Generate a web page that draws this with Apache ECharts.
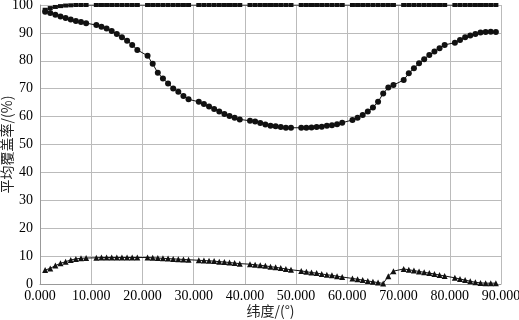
<!DOCTYPE html>
<html>
<head>
<meta charset="utf-8">
<script src="https://cdn.jsdelivr.net/npm/echarts@6/dist/echarts.min.js"></script>
<style>
  html, body { margin: 0; padding: 0; background: #fff; }
  #chart { width: 519px; height: 320px; }
</style>
</head>
<body>
<div id="chart"></div>
<script>
// latitude samples (degrees); multiples of 10 are not sampled
const latitudes = [
  1, 2, 3, 4, 5, 6, 7, 8, 9,
  11, 12, 13, 14, 15, 16, 17, 18, 19,
  21, 22, 23, 24, 25, 26, 27, 28, 29,
  31, 32, 33, 34, 35, 36, 37, 38, 39,
  41, 42, 43, 44, 45, 46, 47, 48, 49,
  51, 52, 53, 54, 55, 56, 57, 58, 59,
  61, 62, 63, 64, 65, 66, 67, 68, 69,
  71, 72, 73, 74, 75, 76, 77, 78, 79,
  81, 82, 83, 84, 85, 86, 87, 88, 89
]

const topSeries = [
  98.3, 98.9, 99.3, 99.6, 99.8, 99.9, 100, 100, 100,
  100, 100, 100, 100, 100, 100, 100, 100, 100,
  100, 100, 100, 100, 100, 100, 100, 100, 100,
  100, 100, 100, 100, 100, 100, 100, 100, 100,
  100, 100, 100, 100, 100, 100, 100, 100, 100,
  100, 100, 100, 100, 100, 100, 100, 100, 100,
  100, 100, 100, 100, 100, 100, 100, 100, 100,
  100, 100, 100, 100, 100, 100, 100, 100, 100,
  100, 100, 100, 100, 100, 100, 100, 100, 100
]

const midSeries = [
  97.6, 97.1, 96.5, 95.9, 95.3, 94.8, 94.3, 93.9, 93.5,
  92.8, 92.2, 91.6, 90.7, 89.6, 88.4, 87.2, 85.7, 83.9,
  81.8, 78.9, 75.7, 73.7, 71.9, 70.1, 68.9, 67.4, 66.2,
  65.3, 64.5, 63.6, 62.7, 61.8, 60.9, 60.2, 59.6, 59.0,
  58.5, 58.2, 57.7, 57.2, 56.7, 56.5, 56.3, 56.0, 56.0,
  56.0, 56.0, 56.1, 56.3, 56.4, 56.7, 56.9, 57.3, 57.8,
  58.8, 59.6, 60.6, 61.8, 63.3, 65.3, 68.3, 70.4, 71.3,
  73.1, 75.5, 77.3, 79.1, 80.6, 82.1, 83.3, 84.5, 85.7,
  86.5, 87.5, 88.4, 89.1, 89.6, 90.1, 90.3, 90.4, 90.3
]

const lowSeries = [
  5.0, 5.6, 6.6, 7.4, 8.0, 8.6, 9.0, 9.2, 9.3,
  9.4, 9.5, 9.5, 9.5, 9.5, 9.5, 9.5, 9.5, 9.5,
  9.5, 9.4, 9.3, 9.2, 9.1, 9.0, 8.9, 8.8, 8.7,
  8.5, 8.4, 8.3, 8.2, 8.0, 7.9, 7.7, 7.5, 7.3,
  7.1, 6.9, 6.7, 6.5, 6.2, 6.0, 5.7, 5.4, 5.1,
  4.7, 4.4, 4.1, 3.9, 3.6, 3.3, 3.1, 2.8, 2.5,
  2.0, 1.7, 1.4, 1.1, 0.8, 0.5, 0.2, 2.8, 4.6,
  5.4, 5.1, 4.8, 4.5, 4.2, 3.9, 3.6, 3.2, 2.9,
  2.2, 1.8, 1.4, 1.0, 0.6, 0.4, 0.3, 0.3, 0.3
]

const pairs = vals => latitudes.map((x, i) => [x, vals[i]])

const chart = echarts.init(document.getElementById('chart'))

const labelFont = {
  color: '#000',
  fontFamily: 'Liberation Serif',
  fontSize: 14
}

function lineSeries(data, symbol, size) {
  return {
    type: 'line',
    data: pairs(data),
    symbol: symbol,
    symbolSize: size,
    showAllSymbol: true,
    lineStyle: { color: '#111', width: 1 },
    itemStyle: { color: '#111' },
    animation: false
  }
}

chart.setOption({
  backgroundColor: '#fff',
  grid: { left: 40, right: 18, top: 5, bottom: 36, outerBoundsMode: 'none', containLabel: false },
  xAxis: {
    type: 'value',
    min: 0,
    max: 90,
    interval: 10,
    name: '纬度/(°)',
    nameLocation: 'middle',
    nameGap: 20,
    nameMoveOverlap: false,
    nameTextStyle: { color: '#222', fontFamily: 'Noto Sans CJK SC', fontSize: 14 },
    axisLine: { lineStyle: { color: '#999' } },
    axisTick: { show: false },
    axisLabel: Object.assign({ margin: 5, formatter: v => v.toFixed(3) }, labelFont),
    splitLine: { lineStyle: { color: '#bbb' } }
  },
  yAxis: {
    type: 'value',
    min: 0,
    max: 100,
    interval: 10,
    name: '平均覆盖率/(%)',
    nameLocation: 'middle',
    nameGap: 26,
    nameMoveOverlap: false,
    nameTextStyle: { color: '#222', fontFamily: 'Noto Sans CJK SC', fontSize: 14 },
    axisLine: { show: true, lineStyle: { color: '#999' } },
    axisTick: { show: false },
    axisLabel: Object.assign({ margin: 7 }, labelFont),
    splitLine: { lineStyle: { color: '#bbb' } }
  },
  series: [
    lineSeries(topSeries, 'rect', [5, 4]),
    lineSeries(midSeries, 'circle', 6),
    lineSeries(lowSeries, 'triangle', 6)
  ]
})
</script>
</body>
</html>
